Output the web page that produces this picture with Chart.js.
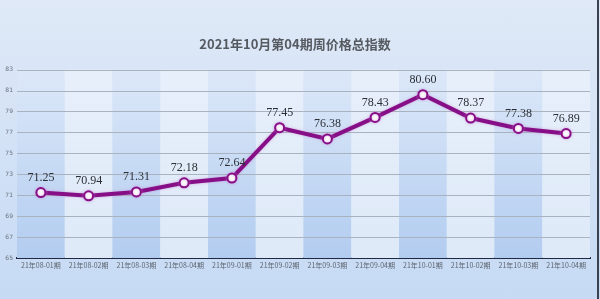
<!DOCTYPE html>
<html>
<head>
<meta charset="utf-8">
<script src="https://cdn.jsdelivr.net/npm/chart.js@4"></script>
<style>
    html, body { margin: 0; padding: 0; }
    body { width: 600px; height: 299px; overflow: hidden; background: linear-gradient(#dfe9f7, #c6daf4); }
    #wrap { position: relative; width: 597px; height: 299px; border-right: 2px solid #3a4250; }
</style>
</head>
<body>
<div id="wrap"><canvas id="priceChart" width="597" height="299"></canvas></div>
<script>
const chartTitle = '2021年10月第04期周价格总指数';
const periods = ['21年08-01期', '21年08-02期', '21年08-03期', '21年08-04期', '21年09-01期', '21年09-02期',
    '21年09-03期', '21年09-04期', '21年10-01期', '21年10-02期', '21年10-03期', '21年10-04期'];
const indexValues = [71.25, 70.94, 71.31, 72.18, 72.64, 77.45, 76.38, 78.43, 80.60, 78.37, 77.38, 76.89];
const yMin = 65;
const yMax = 83;
const yStep = 2;

// alternating column bands behind the line
const bandsPlugin = {
    id: 'bands',
    beforeDatasetsDraw(chart) {
        const { ctx, chartArea, scales } = chart;
        const x = scales.x;
        const w = x.getPixelForValue(1) - x.getPixelForValue(0);
        ctx.save();
        periods.forEach((p, i) => {
            const x0 = x.getPixelForValue(i) - w / 2;
            const g = ctx.createLinearGradient(0, chartArea.top, 0, chartArea.bottom);
            if (i % 2 === 0) {
                g.addColorStop(0, 'rgba(220,232,248,0.9)');
                g.addColorStop(1, 'rgba(178,204,240,1)');
            } else {
                g.addColorStop(0, 'rgba(232,240,250,0.9)');
                g.addColorStop(1, 'rgba(222,233,248,1)');
            }
            ctx.fillStyle = g;
            ctx.fillRect(x0, chartArea.top, w, chartArea.bottom - chartArea.top);
        });
        // redraw grid lines above the bands
        const y = scales.y;
        ctx.strokeStyle = '#a9b3bf';
        ctx.lineWidth = 1;
        for (let v = yMin + yStep; v <= yMax; v += yStep) {
            const py = Math.round(y.getPixelForValue(v)) + 0.5;
            ctx.beginPath();
            ctx.moveTo(chartArea.left, py);
            ctx.lineTo(chartArea.right, py);
            ctx.stroke();
        }
        ctx.restore();
    }
};

// value labels above each point
const valueLabels = {
    id: 'valueLabels',
    afterDatasetsDraw(chart) {
        const { ctx } = chart;
        const meta = chart.getDatasetMeta(0);
        ctx.save();
        ctx.font = '12px "Liberation Serif", "DejaVu Serif", serif';
        ctx.fillStyle = '#2b2f36';
        ctx.textAlign = 'center';
        ctx.textBaseline = 'bottom';
        meta.data.forEach((pt, i) => {
            ctx.fillText(indexValues[i].toFixed(2), pt.x, pt.y - 9);
        });
        ctx.restore();
    }
};

const lineGlow = {
    id: 'lineGlow',
    beforeDatasetDraw(chart) {
        const ctx = chart.ctx;
        ctx.save();
        ctx.shadowColor = 'rgba(200,120,200,0.6)';
        ctx.shadowBlur = 3;
    },
    afterDatasetDraw(chart) {
        chart.ctx.restore();
    }
};

new Chart(document.getElementById('priceChart'), {
    type: 'line',
    data: {
        labels: periods,
        datasets: [{
            data: indexValues,
            borderColor: '#860f88',
            borderWidth: 4,
            pointBackgroundColor: '#ffffff',
            pointBorderColor: '#860f88',
            pointBorderWidth: 2,
            pointRadius: 4.5,
            tension: 0,
            clip: false
        }]
    },
    options: {
        responsive: false,
        animation: false,
        layout: { padding: { top: 36, right: 7, left: 0, bottom: 0 } },
        plugins: {
            legend: { display: false },
            tooltip: { enabled: false },
            title: {
                display: true,
                text: chartTitle,
                color: '#555a60',
                font: { size: 13, weight: 'bold', family: '"Noto Sans CJK SC", sans-serif' },
                padding: { top: 0, bottom: 18 }
            }
        },
        scales: {
            x: {
                offset: true,
                grid: { display: false, drawTicks: false },
                border: { color: '#1e2a44', width: 2 },
                ticks: {
                    color: '#5d6570',
                    font: { size: 7, family: '"Noto Sans CJK SC", sans-serif' },
                    maxRotation: 0,
                    autoSkip: false,
                    padding: 3
                },
                afterFit: (s) => { s.height = 41; }
            },
            y: {
                min: yMin,
                max: yMax,
                grid: { display: false, drawTicks: false },
                border: { display: false },
                ticks: {
                    stepSize: yStep,
                    color: '#6a707a',
                    font: { size: 6, family: '"DejaVu Sans", sans-serif' },
                    padding: 4
                },
                afterFit: (s) => { s.width = 17; }
            }
        }
    },
    plugins: [bandsPlugin, lineGlow, valueLabels]
});
</script>
</body>
</html>
